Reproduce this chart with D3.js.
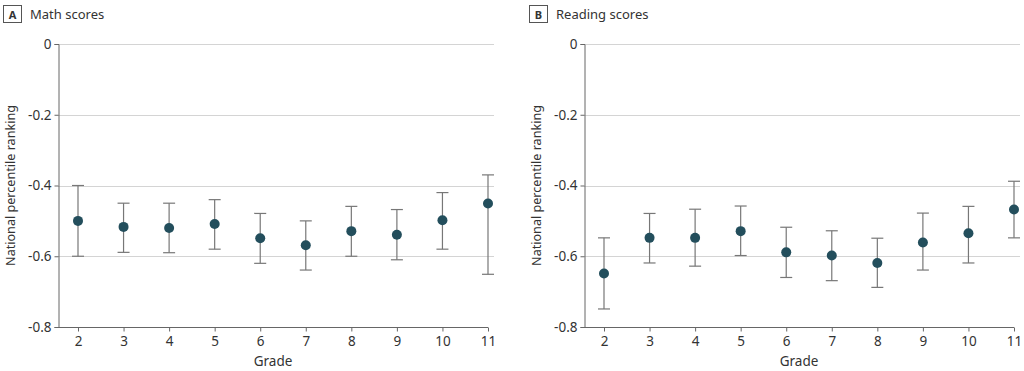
<!DOCTYPE html>
<html>
<head>
<meta charset="utf-8">
<script src="https://cdn.jsdelivr.net/npm/d3@7"></script>
<style>
  body { margin: 0; background: #fff; }
  svg text { font-family: "Noto Sans", "Open Sans", sans-serif; fill: #333; }
</style>
</head>
<body>
<svg id="chart" width="1024" height="371"></svg>
<script>
const grades = [2, 3, 4, 5, 6, 7, 8, 9, 10, 11];
const yTicks = [0, -0.2, -0.4, -0.6, -0.8];

// Math scores
const mathEst = [-0.50, -0.517, -0.52, -0.509, -0.549, -0.569, -0.529, -0.539, -0.498, -0.451];
const mathLow = [-0.60, -0.589, -0.59, -0.58, -0.62, -0.639, -0.60, -0.61, -0.58, -0.651];
const mathHigh = [-0.40, -0.45, -0.45, -0.44, -0.479, -0.50, -0.459, -0.468, -0.42, -0.37];

// Reading scores
const readEst = [-0.649, -0.548, -0.548, -0.529, -0.589, -0.598, -0.619, -0.561, -0.535, -0.468];
const readLow = [-0.749, -0.619, -0.628, -0.598, -0.66, -0.669, -0.688, -0.639, -0.619, -0.548];
const readHigh = [-0.548, -0.479, -0.467, -0.458, -0.518, -0.528, -0.549, -0.478, -0.459, -0.388];

const svg = d3.select("#chart");

function drawPanel(left, letter, title, est, low, high) {
  const axisX = left + 58;
  const x0 = axisX + 20, x1 = axisX + 430;
  const top = 44, bottom = 327;

  const xScale = d3.scaleLinear().domain([2, 11]).range([x0, x1]);
  const yScale = d3.scaleLinear().domain([-0.8, 0]).range([bottom, top]);

  const g = svg.append("g");

  // panel label
  g.append("rect")
    .attr("x", left + 3.5).attr("y", 5.5)
    .attr("width", 18).attr("height", 17)
    .attr("fill", "none").attr("stroke", "#555").attr("stroke-width", 1);
  g.append("text")
    .attr("x", left + 12.5).attr("y", 18.5)
    .attr("text-anchor", "middle")
    .style("font-size", "11px").style("font-weight", "bold")
    .text(letter);
  g.append("text")
    .attr("x", left + 30).attr("y", 19)
    .style("font-size", "13px")
    .text(title);

  // gridlines
  g.selectAll(".grid")
    .data(yTicks.filter((d) => d !== -0.8))
    .enter()
    .append("line")
    .attr("x1", axisX).attr("x2", x1 + 6)
    .attr("y1", (d) => Math.round(yScale(d)) + 0.5)
    .attr("y2", (d) => Math.round(yScale(d)) + 0.5)
    .attr("stroke", "#d4d4d4").attr("stroke-width", 1);

  // y axis
  const yAxis = g.append("g")
    .attr("transform", `translate(${axisX + 0.5},0)`)
    .call(d3.axisLeft(yScale).tickValues(yTicks).tickSize(4).tickPadding(3)
      .tickFormat((d) => (d === 0 ? "0" : d3.format(".1f")(d).replace("−", "-"))));
  yAxis.select(".domain").attr("stroke", "#666");
  yAxis.selectAll(".tick line").attr("stroke", "#666");
  yAxis.selectAll("text").style("font-size", "13.5px").attr("fill", "#333");

  // x axis
  const xAxis = g.append("g")
    .attr("transform", `translate(0,${bottom + 0.5})`)
    .call(d3.axisBottom(xScale).tickValues(grades).tickSize(4).tickPadding(5).tickSizeOuter(0));
  xAxis.select(".domain").attr("d", `M${axisX},0H${x1}`).attr("stroke", "#666");
  xAxis.selectAll(".tick line").attr("stroke", "#666");
  xAxis.selectAll("text").style("font-size", "13.5px").attr("fill", "#333");

  // axis titles
  g.append("text")
    .attr("transform", `translate(${left + 14.5},${(top + bottom) / 2}) rotate(-90)`)
    .attr("text-anchor", "middle")
    .style("font-size", "12.6px")
    .text("National percentile ranking");
  g.append("text")
    .attr("x", (axisX + x1) / 2)
    .attr("y", 366)
    .attr("text-anchor", "middle")
    .style("font-size", "13.5px")
    .text("Grade");

  const rows = grades.map((gr, i) => ({ grade: gr, est: est[i], low: low[i], high: high[i] }));

  // error bars
  const bars = g.selectAll(".err").data(rows).enter().append("g").attr("class", "err");
  bars.append("line")
    .attr("x1", (d) => xScale(d.grade)).attr("x2", (d) => xScale(d.grade))
    .attr("y1", (d) => yScale(d.low)).attr("y2", (d) => yScale(d.high))
    .attr("stroke", "#777").attr("stroke-width", 1.2);
  bars.append("line")
    .attr("x1", (d) => xScale(d.grade) - 6).attr("x2", (d) => xScale(d.grade) + 6)
    .attr("y1", (d) => yScale(d.low)).attr("y2", (d) => yScale(d.low))
    .attr("stroke", "#777").attr("stroke-width", 1.2);
  bars.append("line")
    .attr("x1", (d) => xScale(d.grade) - 6).attr("x2", (d) => xScale(d.grade) + 6)
    .attr("y1", (d) => yScale(d.high)).attr("y2", (d) => yScale(d.high))
    .attr("stroke", "#777").attr("stroke-width", 1.2);

  // points
  g.selectAll(".dot")
    .data(rows)
    .enter()
    .append("circle")
    .attr("class", "dot")
    .attr("cx", (d) => xScale(d.grade))
    .attr("cy", (d) => yScale(d.est))
    .attr("r", 5)
    .attr("fill", "#234e5c");
}

drawPanel(0, "A", "Math scores", mathEst, mathLow, mathHigh);
drawPanel(526, "B", "Reading scores", readEst, readLow, readHigh);
</script>
</body>
</html>
